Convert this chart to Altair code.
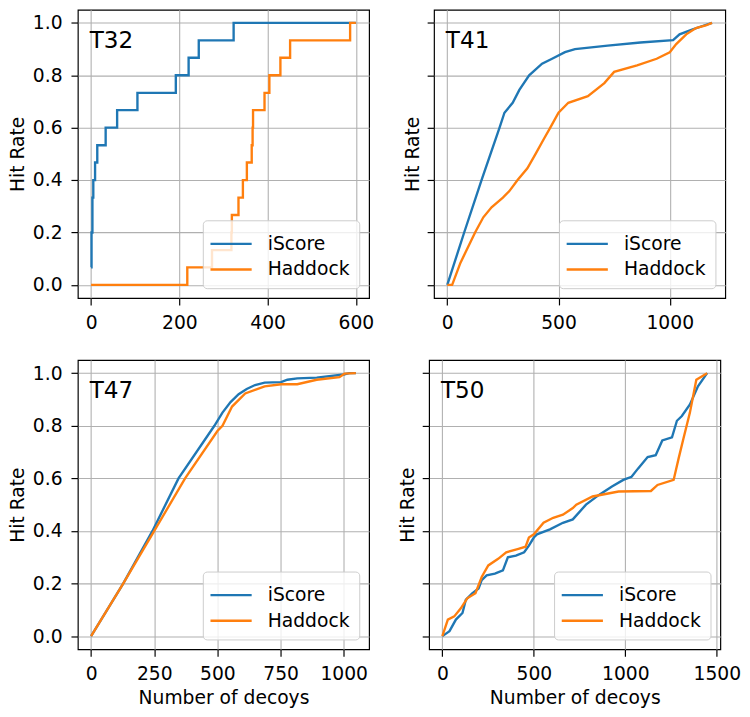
import altair as alt
import pandas as pd

METHODS = ["iScore", "Haddock"]
COLORS = ["#1f77b4", "#ff7f0e"]
PANEL_NAMES = ["T32", "T41", "T47", "T50"]
Y_TICKS = [0.0, 0.2, 0.4, 0.6, 0.8, 1.0]

# ---- T32 (step-like curves, 15 hits) ----
T32_ISCORE_X = [0, 1, 3, 5, 9, 14, 33, 59, 105, 192, 221, 244, 323, 600]
T32_ISCORE_Y = [0.067, 0.2, 0.333, 0.4, 0.467, 0.533, 0.6, 0.667, 0.733, 0.8, 0.867, 0.933, 1.0, 1.0]
T32_HADDOCK_X = [0, 218, 274, 318, 319, 334, 344, 353, 364, 366, 367, 393, 404, 429, 451, 587, 600]
T32_HADDOCK_Y = [0.0, 0.067, 0.133, 0.2, 0.267, 0.333, 0.4, 0.467, 0.533, 0.6, 0.667, 0.733, 0.8, 0.867, 0.933, 1.0, 1.0]
T32_XTICKS = [0, 200, 400, 600]

# ---- T41 ----
T41_ISCORE_X = [0, 76, 154, 235, 257, 294, 324, 368, 426, 471, 529, 574, 721, 868, 1015, 1044, 1103, 1147, 1190]
T41_ISCORE_Y = [0.0, 0.2, 0.4, 0.6, 0.657, 0.695, 0.744, 0.8, 0.844, 0.863, 0.888, 0.9, 0.913, 0.925, 0.934, 0.956, 0.975, 0.988, 1.0]
T41_HADDOCK_X = [0, 22, 59, 125, 162, 199, 250, 279, 316, 360, 397, 434, 463, 500, 544, 632, 706, 750, 853, 941, 1000, 1029, 1074, 1118, 1162, 1190]
T41_HADDOCK_Y = [0.0, 0.0, 0.084, 0.2, 0.258, 0.296, 0.333, 0.358, 0.4, 0.445, 0.5, 0.557, 0.6, 0.657, 0.695, 0.72, 0.77, 0.813, 0.838, 0.863, 0.888, 0.919, 0.956, 0.98, 0.99, 1.0]
T41_XTICKS = [0, 500, 1000]

# ---- T47 ----
T47_ISCORE_X = [0, 127, 243, 346, 488, 520, 552, 584, 616, 649, 687, 752, 777, 816, 893, 1000, 1022, 1048]
T47_ISCORE_Y = [0.0, 0.2, 0.4, 0.6, 0.8, 0.85, 0.89, 0.92, 0.94, 0.955, 0.964, 0.966, 0.975, 0.98, 0.983, 0.995, 1.0, 1.0]
T47_HADDOCK_X = [0, 127, 250, 372, 500, 520, 558, 610, 687, 752, 816, 893, 983, 1003, 1048]
T47_HADDOCK_Y = [0.0, 0.2, 0.4, 0.6, 0.78, 0.8, 0.873, 0.923, 0.95, 0.958, 0.958, 0.975, 0.985, 0.998, 1.0]
T47_XTICKS = [0, 250, 500, 750, 1000]

# ---- T50 ----
T50_ISCORE_X = [0, 39, 74, 110, 128, 163, 198, 215, 242, 287, 331, 358, 402, 447, 473, 500, 517, 588, 659, 713,
                785, 856, 927, 989, 1034, 1069, 1122, 1166, 1202, 1255, 1282, 1309, 1353, 1397, 1447]
T50_ISCORE_Y = [0.0, 0.019, 0.063, 0.088, 0.138, 0.163, 0.181, 0.213, 0.231, 0.238, 0.25, 0.3, 0.306, 0.319, 0.344,
                0.375, 0.387, 0.406, 0.431, 0.444, 0.5, 0.537, 0.569, 0.594, 0.606, 0.637, 0.681, 0.688, 0.744,
                0.756, 0.819, 0.837, 0.881, 0.95, 1.0]
T50_HADDOCK_X = [0, 30, 65, 101, 136, 181, 215, 251, 305, 349, 411, 455, 473, 500, 553, 606, 659, 713, 732, 821,
                 963, 1140, 1176, 1264, 1291, 1317, 1353, 1388, 1447]
T50_HADDOCK_Y = [0.0, 0.063, 0.075, 0.106, 0.144, 0.163, 0.225, 0.269, 0.294, 0.319, 0.331, 0.34, 0.375, 0.387,
                 0.431, 0.45, 0.462, 0.487, 0.5, 0.531, 0.55, 0.552, 0.575, 0.594, 0.675, 0.75, 0.85, 0.975, 1.0]
T50_XTICKS = [0, 500, 1000, 1500]

FONT = "DejaVu Sans"
FS = 19
W = 296
H_TOP, H_BOTTOM = 293, 294


def x_domain(xs):
    lo, hi = min(xs), max(xs)
    m = 0.05 * (hi - lo)
    return [lo - m, hi + m]


def panel(name, ix, iy, hx, hy, xticks, left, bottom, interp, h):
    df = pd.concat([
        pd.DataFrame({"x": ix, "y": iy, "method": METHODS[0]}),
        pd.DataFrame({"x": hx, "y": hy, "method": METHODS[1]}),
    ], ignore_index=True)
    xs = list(ix) + list(hx)
    xenc = alt.X("x:Q",
                 scale=alt.Scale(domain=x_domain(xs), nice=False, zero=False),
                 axis=alt.Axis(values=xticks, format="d", labelPadding=9, titlePadding=5,
                               title="Number of decoys" if bottom else None))
    yaxis = alt.Axis(values=Y_TICKS, format=".1f", title="Hit Rate", labels=left,
                     labelPadding=9, titlePadding=5 if left else 4)
    yenc = alt.Y("y:Q", scale=alt.Scale(domain=[-0.05, 1.05], nice=False, zero=False), axis=yaxis)
    color = alt.Color("method:N",
                      scale=alt.Scale(domain=METHODS, range=COLORS),
                      legend=alt.Legend(title=None, orient="bottom-right", offset=10,
                                        padding=9, rowPadding=1,
                                        fillColor="rgba(255,255,255,0.8)", strokeColor="#cccccc",
                                        cornerRadius=4, symbolType="M-1.2,0H1.9", symbolSize=729,
                                        symbolStrokeWidth=2.4, labelFont=FONT, labelFontSize=FS,
                                        labelColor="black", labelOffset=27))
    base = alt.Chart(df).mark_line(strokeWidth=2.4, interpolate=interp).encode(x=xenc, y=yenc, color=color)
    l1 = base.transform_filter(alt.datum.method == METHODS[0])
    l2 = base.transform_filter(alt.datum.method == METHODS[1])
    txt = alt.Chart(pd.DataFrame({"label": [name]})).mark_text(
        align="left", baseline="alphabetic", fontSize=23.5, font=FONT, color="black"
    ).encode(x=alt.value(12), y=alt.value(39), text="label:N")
    return alt.layer(l1, l2, txt).properties(width=W, height=h)


p1 = panel(PANEL_NAMES[0], T32_ISCORE_X, T32_ISCORE_Y, T32_HADDOCK_X, T32_HADDOCK_Y, T32_XTICKS, True, False, "step-after", H_TOP)
p2 = panel(PANEL_NAMES[1], T41_ISCORE_X, T41_ISCORE_Y, T41_HADDOCK_X, T41_HADDOCK_Y, T41_XTICKS, False, False, "linear", H_TOP)
p3 = panel(PANEL_NAMES[2], T47_ISCORE_X, T47_ISCORE_Y, T47_HADDOCK_X, T47_HADDOCK_Y, T47_XTICKS, True, True, "linear", H_BOTTOM)
p4 = panel(PANEL_NAMES[3], T50_ISCORE_X, T50_ISCORE_Y, T50_HADDOCK_X, T50_HADDOCK_Y, T50_XTICKS, False, True, "linear", H_BOTTOM)

row1 = alt.hconcat(p1, p2, spacing=28).resolve_scale(color="independent")
row2 = alt.hconcat(p3, p4, spacing=28).resolve_scale(color="independent")

PAD = {"left": 0, "top": -5, "right": 0, "bottom": 0}

chart = alt.vconcat(row1, row2, spacing=26).resolve_scale(color="independent").properties(
    padding=PAD
).configure(font=FONT, background="white").configure_view(
    stroke="black", strokeWidth=1.2
).configure_axis(
    labelFont=FONT, labelFontSize=FS, labelColor="black",
    titleFont=FONT, titleFontSize=FS, titleFontWeight="normal", titleColor="black",
    tickSize=7, tickColor="black", tickWidth=1.2,
    grid=True, gridColor="#b0b0b0", gridWidth=1.1, domain=False
)

chart.save("out.html", embed_options={"renderer": "svg", "actions": False})
